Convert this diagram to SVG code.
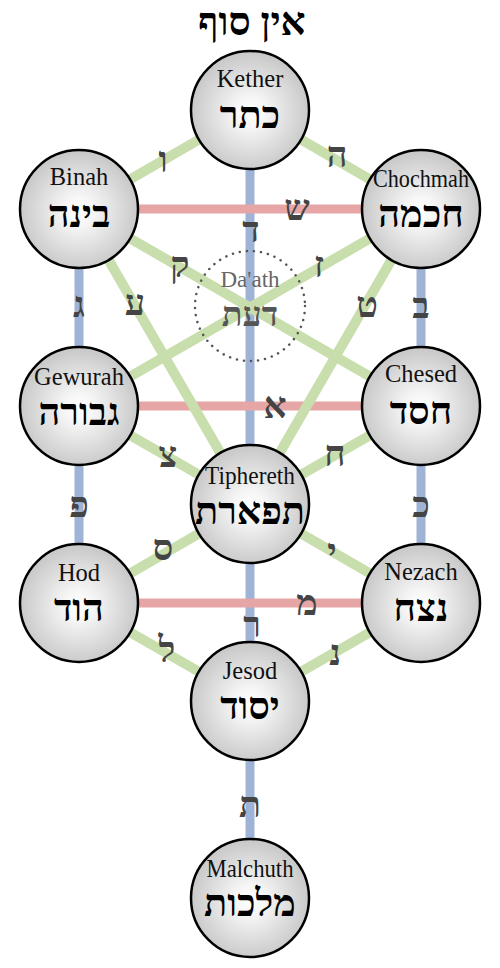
<svg xmlns="http://www.w3.org/2000/svg" width="500" height="968" viewBox="0 0 500 968">
<defs>
<radialGradient id="g" cx="50%" cy="52%" r="50%">
<stop offset="0" stop-color="#ffffff"/>
<stop offset="0.25" stop-color="#f6f6f6"/>
<stop offset="1" stop-color="#c9c9c9"/>
</radialGradient>
<style>
.n circle{fill:url(#g);stroke:#000;stroke-width:2.5}
.en{font-family:"Liberation Serif",serif;font-size:24.5px;text-anchor:middle;fill:#111}
.he{font-family:"Liberation Serif","DejaVu Serif",serif;font-size:38px;font-weight:bold;text-anchor:middle;fill:#000}
.lb{font-family:"Liberation Serif","DejaVu Serif",serif;font-size:36px;text-anchor:middle;fill:#444;font-weight:bold}
.b{stroke:#9fb3d6;stroke-width:9;fill:none}
.r{stroke:#e6a6a6;stroke-width:9;fill:none}
.gr{stroke:#c8dead;stroke-width:10;fill:none}
</style>
</defs>
<rect width="500" height="968" fill="#fff"/>
<text x="252" y="35" class="he" style="font-size:39px">אין סוף</text>
<g id="connectors">
<line class="b" x1="250" y1="110" x2="250" y2="898"/>
<line class="b" x1="79" y1="209" x2="79" y2="603"/>
<line class="b" x1="421" y1="209" x2="421" y2="603"/>
<line class="r" x1="79" y1="209" x2="421" y2="209"/>
<line class="r" x1="79" y1="406" x2="421" y2="406"/>
<line class="r" x1="79" y1="603" x2="421" y2="603"/>
<line class="gr" x1="250" y1="110" x2="79" y2="209"/>
<line class="gr" x1="250" y1="110" x2="421" y2="209"/>
<line class="gr" x1="79" y1="209" x2="250" y2="504"/>
<line class="gr" x1="421" y1="209" x2="250" y2="504"/>
<line class="gr" x1="79" y1="209" x2="421" y2="406"/>
<line class="gr" x1="421" y1="209" x2="79" y2="406"/>
<line class="gr" x1="79" y1="406" x2="250" y2="504"/>
<line class="gr" x1="421" y1="406" x2="250" y2="504"/>
<line class="gr" x1="250" y1="504" x2="79" y2="603"/>
<line class="gr" x1="250" y1="504" x2="421" y2="603"/>
<line class="gr" x1="79" y1="603" x2="250" y2="701"/>
<line class="gr" x1="421" y1="603" x2="250" y2="701"/>
</g>
<g id="labels">
<text class="lb" x="163" y="172">ו</text>
<text class="lb" x="337" y="167">ה</text>
<text class="lb" x="297" y="220">ש</text>
<text class="lb" x="251" y="242">ד</text>
<text class="lb" x="180" y="277">ק</text>
<text class="lb" x="319" y="277">ז</text>
<text class="lb" x="135" y="315">ע</text>
<text class="lb" x="367" y="317">ט</text>
<text class="lb" x="79" y="317">ג</text>
<text class="lb" x="421" y="318">ב</text>
<text class="lb" x="275" y="418">א</text>
<text class="lb" x="168" y="467">צ</text>
<text class="lb" x="335" y="466">ח</text>
<text class="lb" x="79" y="517">פ</text>
<text class="lb" x="421" y="517">כ</text>
<text class="lb" x="163" y="560">ס</text>
<text class="lb" x="332" y="564">י</text>
<text class="lb" x="307" y="615">מ</text>
<text class="lb" x="252" y="637">ר</text>
<text class="lb" x="167" y="662">ל</text>
<text class="lb" x="335" y="665">נ</text>
<text class="lb" x="250" y="817">ת</text>
</g>
<g id="daath">
<circle cx="250" cy="306" r="55" fill="none" stroke="#555" stroke-width="2.5" stroke-dasharray="0.1 7" stroke-linecap="round"/>
<text class="en" x="250" y="287" style="fill:#666;font-size:23px">Da'ath</text>
<text class="lb" x="250" y="326" style="fill:#555;font-size:34px">דעת</text>
</g>
<g id="kether" class="n"><circle cx="250" cy="110" r="59"/><text class="en" x="250" y="87">Kether</text><text class="he" x="250" y="128">כתר</text></g>
<g id="binah" class="n"><circle cx="79" cy="209" r="59"/><text class="en" x="79" y="185">Binah</text><text class="he" x="79" y="227">בינה</text></g>
<g id="chochmah" class="n"><circle cx="421" cy="209" r="59"/><text class="en" x="421" y="187" textLength="96" lengthAdjust="spacingAndGlyphs">Chochmah</text><text class="he" x="421" y="227">חכמה</text></g>
<g id="gewurah" class="n"><circle cx="79" cy="406" r="59"/><text class="en" x="79" y="385">Gewurah</text><text class="he" x="79" y="425">גבורה</text></g>
<g id="chesed" class="n"><circle cx="421" cy="406" r="59"/><text class="en" x="421" y="382">Chesed</text><text class="he" x="421" y="424">חסד</text></g>
<g id="tiphereth" class="n"><circle cx="250" cy="504" r="59"/><text class="en" x="250" y="484" textLength="90" lengthAdjust="spacingAndGlyphs">Tiphereth</text><text class="he" x="250" y="524">תפארת</text></g>
<g id="hod" class="n"><circle cx="79" cy="603" r="59"/><text class="en" x="79" y="581">Hod</text><text class="he" x="79" y="621">הוד</text></g>
<g id="nezach" class="n"><circle cx="421" cy="603" r="59"/><text class="en" x="421" y="580">Nezach</text><text class="he" x="421" y="621">נצח</text></g>
<g id="jesod" class="n"><circle cx="250" cy="701" r="59"/><text class="en" x="250" y="679">Jesod</text><text class="he" x="250" y="719">יסוד</text></g>
<g id="malchuth" class="n"><circle cx="250" cy="898" r="59"/><text class="en" x="250" y="877" textLength="87" lengthAdjust="spacingAndGlyphs">Malchuth</text><text class="he" x="250" y="916">מלכות</text></g>
</svg>
